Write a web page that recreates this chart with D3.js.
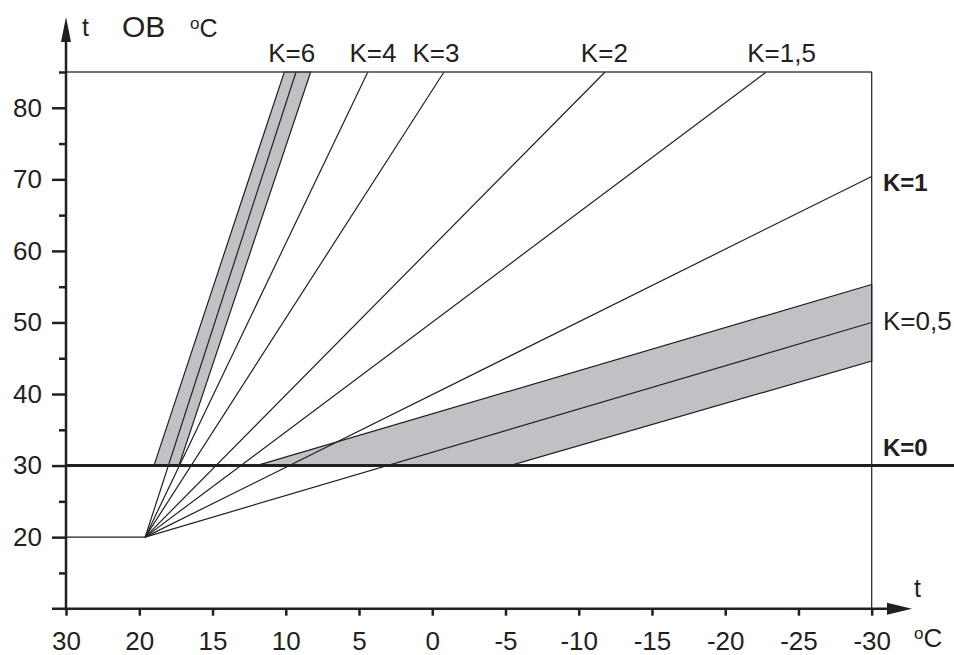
<!DOCTYPE html>
<html>
<head>
<meta charset="utf-8">
<script src="https://cdn.jsdelivr.net/npm/d3@7/dist/d3.min.js"></script>
<style>
  body { margin: 0; background: #fff; }
  svg text { font-family: "Liberation Sans", Arial, Helvetica, sans-serif; fill: #231f20; }
</style>
</head>
<body>
<div id="viz"></div>
<script>
// outdoor temperature ticks (axis is broken between 30 and 20)
var xTicks = [30, 20, 15, 10, 5, 0, -5, -10, -15, -20, -25, -30];
var yTicks = [20, 30, 40, 50, 60, 70, 80];
var yMinor = [15, 25, 35, 45, 55, 65, 75, 85];

// all curves start from the same point
var origin = [19.6, 20];
var curveK = ['6', '4', '3', '2', '1,5', '1', '0,5'];
var curveEnd = [[9.3, 85], [4.4, 85], [-0.8, 85], [-11.8, 85], [-22.8, 85], [-30, 70.4], [-30, 50]];

// grey tolerance bands around K=6 and K=0,5
var band6 = [[19.0, 30], [10.1, 85], [8.3, 85], [17.3, 30]];
var band05 = [[12, 30], [-30, 55.3], [-30, 44.6], [-5.3, 30]];

// labels along the top edge (placed in outdoor temp units)
var topLabels = ['K=6', 'K=4', 'K=3', 'K=2', 'K=1,5'];
var topLabelAt = [9.6, 4.05, -0.25, -11.75, -23.85];
// labels on the right side (baseline in flow temp units)
var sideLabels = ['K=1', 'K=0,5', 'K=0'];
var sideLabelAt = [68.4, 48.9, 31.3];
var sideBold = [true, false, true];

var width = 954, height = 655;
var svg = d3.select('#viz').append('svg').attr('width', width).attr('height', height);

var x = d3.scaleLinear().domain([30, 20, -30]).range([66, 139.3, 871.7]);
var y = d3.scaleLinear().domain([10, 85]).range([608.7, 72]);

var ink = '#231f20';

// bands
[band6, band05].forEach(function(b) {
    svg.append('path')
        .attr('d', d3.line().x(d => x(d[0])).y(d => y(d[1]))(b) + 'Z')
        .attr('fill', '#c0c1c4')
        .attr('stroke', ink)
        .attr('stroke-width', 1.2);
});

// curves
svg.selectAll('.curve').data(curveEnd).enter().append('line')
    .attr('class', 'curve')
    .attr('x1', x(origin[0])).attr('y1', y(origin[1]))
    .attr('x2', d => x(d[0])).attr('y2', d => y(d[1]))
    .attr('stroke', ink).attr('stroke-width', 1.2);

// horizontal line at 20 up to the origin
svg.append('line')
    .attr('x1', x(30)).attr('x2', x(origin[0]))
    .attr('y1', y(20)).attr('y2', y(20))
    .attr('stroke', ink).attr('stroke-width', 1.2);

// frame top and right
svg.append('line')
    .attr('x1', x(30)).attr('x2', x(-30))
    .attr('y1', y(85)).attr('y2', y(85))
    .attr('stroke', '#444').attr('stroke-width', 1.6);
svg.append('line')
    .attr('x1', x(-30)).attr('x2', x(-30))
    .attr('y1', y(85)).attr('y2', y(10))
    .attr('stroke', ink).attr('stroke-width', 1.2);

// K=0 line
svg.append('line')
    .attr('x1', x(30)).attr('x2', width)
    .attr('y1', y(30)).attr('y2', y(30))
    .attr('stroke', ink).attr('stroke-width', 3);

// x axis
var xAxis = svg.append('g')
    .attr('transform', 'translate(0,' + y(10) + ')')
    .call(d3.axisBottom(x).tickValues(xTicks).tickSize(7).tickPadding(16).tickFormat(d => String(d)));
xAxis.select('.domain').remove();
xAxis.selectAll('line').attr('stroke', ink).attr('stroke-width', 2.5);
xAxis.selectAll('text').attr('font-size', 26).attr('fill', ink)
    .style('font-family', '"Liberation Sans", Arial, sans-serif');

svg.append('line')
    .attr('x1', 52).attr('x2', 892)
    .attr('y1', y(10)).attr('y2', y(10))
    .attr('stroke', ink).attr('stroke-width', 2.5);
svg.append('path')
    .attr('d', 'M912,' + y(10) + 'L887,' + (y(10) - 6) + 'L887,' + (y(10) + 6) + 'Z')
    .attr('fill', ink);

// y axis
var yAxis = svg.append('g')
    .attr('transform', 'translate(' + x(30) + ',0)')
    .call(d3.axisLeft(y).tickValues(yTicks).tickSize(14).tickPadding(10).tickFormat(d => String(d)));
yAxis.select('.domain').remove();
yAxis.selectAll('line').attr('stroke', ink).attr('stroke-width', 2.5);
yAxis.selectAll('text').attr('font-size', 26).attr('fill', ink)
    .style('font-family', '"Liberation Sans", Arial, sans-serif');

var yAxisMinor = svg.append('g')
    .attr('transform', 'translate(' + x(30) + ',0)')
    .call(d3.axisLeft(y).tickValues(yMinor).tickSize(7).tickFormat(''));
yAxisMinor.select('.domain').remove();
yAxisMinor.selectAll('line').attr('stroke', ink).attr('stroke-width', 2.5);

svg.append('line')
    .attr('x1', x(30)).attr('x2', x(30))
    .attr('y1', y(10) + 1).attr('y2', 38)
    .attr('stroke', ink).attr('stroke-width', 2.5);
svg.append('path')
    .attr('d', 'M' + x(30) + ',17L' + (x(30) - 5) + ',42L' + (x(30) + 5) + ',42Z')
    .attr('fill', ink);

// axis titles
svg.append('text').attr('x', 82).attr('y', 36).attr('font-size', 25).text('t');
svg.append('text').attr('x', 122).attr('y', 37).attr('font-size', 30).text('OB');
var degTop = svg.append('text').attr('x', 190).attr('y', 37).attr('font-size', 25);
degTop.append('tspan').attr('font-size', 17).attr('dy', -8).text('o');
degTop.append('tspan').attr('dy', 8).text('C');

svg.append('text').attr('x', 914).attr('y', 597).attr('font-size', 25).text('t');
var degBot = svg.append('text').attr('x', 914).attr('y', 647).attr('font-size', 26);
degBot.append('tspan').attr('font-size', 17).attr('dy', -8).text('o');
degBot.append('tspan').attr('dy', 8).text('C');

// curve labels
svg.selectAll('.topLabel').data(topLabels).enter().append('text')
    .attr('class', 'topLabel')
    .attr('x', (d, i) => x(topLabelAt[i]))
    .attr('y', 62)
    .attr('text-anchor', 'middle')
    .attr('font-size', 26)
    .text(d => d);

svg.selectAll('.sideLabel').data(sideLabels).enter().append('text')
    .attr('class', 'sideLabel')
    .attr('x', 883)
    .attr('y', (d, i) => y(sideLabelAt[i]))
    .attr('font-size', (d, i) => sideBold[i] ? 24 : 26)
    .attr('font-weight', (d, i) => sideBold[i] ? 'bold' : 'normal')
    .text(d => d);
</script>
</body>
</html>
